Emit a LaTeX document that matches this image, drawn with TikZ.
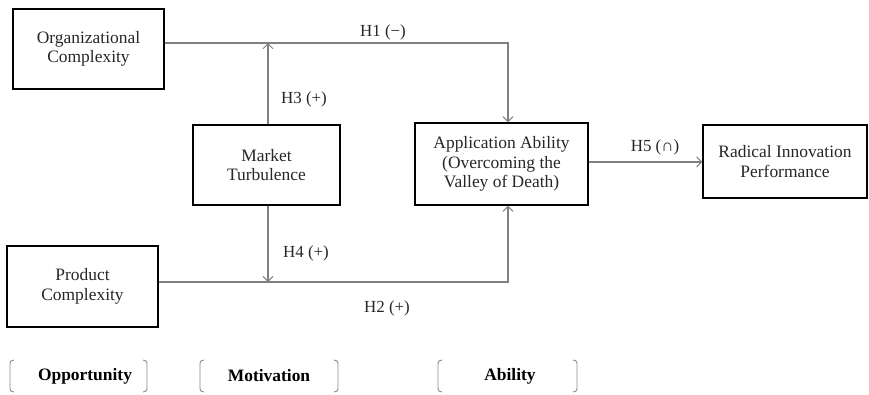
\documentclass[tikz,border=0pt]{standalone}
\usepackage{fontspec}
\setmainfont{Liberation Serif}
\usetikzlibrary{arrows.meta}
\begin{document}
\begin{tikzpicture}[x=1bp,y=-1bp,
  concept/.style={draw=black,line width=1.3bp,inner sep=0pt,align=center,
    font=\fontsize{17.5}{19.5}\selectfont,text=black!85},
  link/.style={draw=black!50,line width=1.1bp},
  linkarrow/.style={link,-{Straight Barb[length=5bp,width=10bp,line width=1bp]}},
  hyp/.style={font=\fontsize{17}{19}\selectfont,text=black!85,inner sep=0pt},
  stage/.style={font=\bfseries\fontsize{17.5}{19}\selectfont,text=black,inner sep=0pt},
  bracketline/.style={draw=black!45,line width=0.9bp}]
\useasboundingbox (0,0) rectangle (869,394);

% constructs
\node[concept,minimum width=151bp,minimum height=80bp] (org) at (88.5,49)
  {Organizational\\Complexity};
\node[concept,minimum width=147bp,minimum height=80bp] (mkt) at (266.5,165)
  {Market\\Turbulence};
\node[concept,minimum width=173bp,minimum height=82bp] (app) at (501.5,164)
  {Application Ability\\(Overcoming the\\Valley of Death)};
\node[concept,minimum width=164bp,minimum height=73bp] (rad) at (785,161.5)
  {Radical Innovation\\Performance};
\node[concept,minimum width=151bp,minimum height=81bp] (prod) at (82.5,286.5)
  {Product\\Complexity};

% junctions on the main paths
\coordinate (topbend) at (508,43);
\coordinate (botbend) at (508,282);
\coordinate (topmod) at (268,43);
\coordinate (botmod) at (268,282);

% main effects
\draw[linkarrow] (org.east |- topbend) -- (topbend) -- (topbend |- app.north);
\draw[linkarrow] (prod.east |- botbend) -- (botbend) -- (botbend |- app.south);
\draw[linkarrow] (app.east |- 0,162) -- (rad.west |- 0,162);

% moderation
\draw[linkarrow] (topmod |- mkt.north) -- (topmod);
\draw[linkarrow] (botmod |- mkt.south) -- (botmod);

% hypothesis labels
\node[hyp] (h1) at (383,32) {H1 (\textminus)};
\node[hyp] (h2) at (387,308) {H2 (+)};
\node[hyp] (h3) at (304,99) {H3 (+)};
\node[hyp] (h4) at (306,253) {H4 (+)};
\node[hyp] (h5) at (655,147) {H5 (∩)};

% bottom stage labels with brackets
\node[stage] (opp) at (85,376) {Opportunity};
\node[stage] (mot) at (269,376) {Motivation};
\node[stage] (abi) at (510,376) {Ability};

\foreach \l/\r in {10/147,200/338,438/577}{
  \draw[bracketline] (\l+4,360) .. controls (\l,361) .. (\l,366) -- (\l,386)
    .. controls (\l,391) .. (\l+4,392);
  \draw[bracketline] (\r-4,360) .. controls (\r,361) .. (\r,366) -- (\r,386)
    .. controls (\r,391) .. (\r-4,392);
}
\end{tikzpicture}
\end{document}
